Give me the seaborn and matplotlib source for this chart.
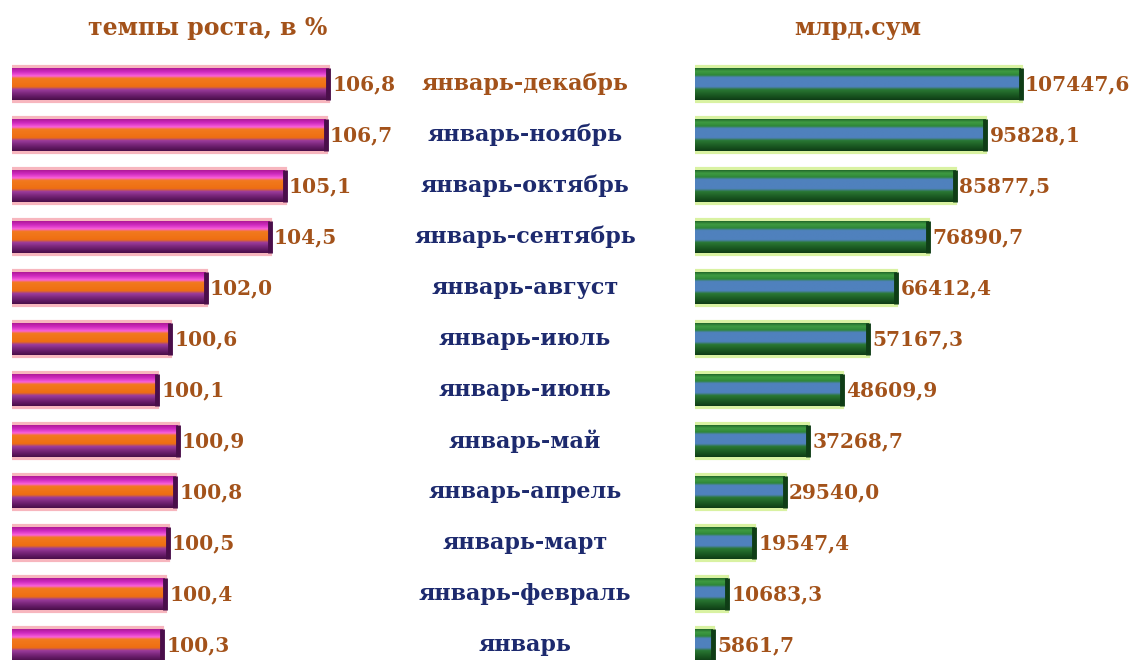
import numpy as np
import pandas as pd
import matplotlib
matplotlib.use('Agg')
import matplotlib.pyplot as plt
import matplotlib.transforms as mtransforms
from matplotlib.colors import LinearSegmentedColormap
import seaborn as sns

periods = ['январь-декабрь', 'январь-ноябрь', 'январь-октябрь', 'январь-сентябрь',
           'январь-август', 'январь-июль', 'январь-июнь', 'январь-май',
           'январь-апрель', 'январь-март', 'январь-февраль', 'январь']
growth = [106.8, 106.7, 105.1, 104.5, 102.0, 100.6, 100.1, 100.9, 100.8, 100.5, 100.4, 100.3]
volume = [107447.6, 95828.1, 85877.5, 76890.7, 66412.4, 57167.3, 48609.9,
          37268.7, 29540.0, 19547.4, 10683.3, 5861.7]
title_left = 'темпы роста, в %'
title_right = 'млрд.сум'

df = pd.DataFrame({'period': periods, 'growth': growth, 'volume': volume})

BROWN = '#a3521a'
NAVY = '#1d2a6e'
FONT = 'DejaVu Serif'

# 3D-looking gradients, top -> bottom
left_cmap = LinearSegmentedColormap.from_list('left', [
    (0.00, '#a8168f'), (0.14, '#cf2abf'), (0.27, '#fb62da'), (0.34, '#f27a1e'),
    (0.60, '#ee6e12'), (0.68, '#9c3c9c'), (0.86, '#6c1f6e'), (1.00, '#4a0e4a')])
right_cmap = LinearSegmentedColormap.from_list('right', [
    (0.00, '#1a5a24'), (0.12, '#3f9c42'), (0.24, '#2e8638'), (0.31, '#4f81bd'),
    (0.60, '#4f81bd'), (0.68, '#2a7834'), (0.85, '#1b5a22'), (1.00, '#0f3d16')])

sns.set_theme(style='white')

fig = plt.figure(figsize=(11.38, 6.6), dpi=100)
ax1 = fig.add_axes([12 / 1138, -10.5 / 660, 400 / 1138, 612 / 660])
ax2 = fig.add_axes([695 / 1138, -10.5 / 660, 443 / 1138, 612 / 660])

lims = {ax1: (94.4, 94.4 + 400 / 25.5), ax2: (0, 443 * 330)}


def draw_panel(ax, col, glow, cmap, dark, fmt, size):
    # soft glow under each bar
    sns.barplot(data=df, x=col, y='period', order=periods, orient='h', color=glow,
                width=0.68, edgecolor=glow, linewidth=3, saturation=1, ax=ax, zorder=1)
    n0 = len(ax.patches)
    sns.barplot(data=df, x=col, y='period', order=periods, orient='h', color=dark,
                width=0.64, linewidth=0, saturation=1, ax=ax, zorder=2)
    x0 = lims[ax][0]
    grad = np.linspace(0, 1, 64).reshape(-1, 1)
    for p in ax.patches[n0:]:
        left = max(p.get_x(), x0)
        right = p.get_x() + p.get_width()
        y, h = p.get_y(), p.get_height()
        im = ax.imshow(grad, cmap=cmap, aspect='auto', origin='upper',
                       extent=(left, right, y + h, y), zorder=3, interpolation='bilinear')
        im.set_clip_path(p)
        ax.plot([right, right], [y, y + h], color=dark, lw=3.5, zorder=4,
                solid_capstyle='butt')
    for i, v in enumerate(df[col]):
        ax.annotate(fmt(v), (v, i), xytext=(3, 0), textcoords='offset points',
                    va='center', ha='left', color=BROWN, fontsize=size,
                    fontweight='bold', family=FONT, annotation_clip=False)
    ax.set_xlim(*lims[ax])
    ax.set_ylim(len(periods) - 0.5, -0.5)
    ax.axis('off')


fmt = lambda v: f'{v:.1f}'.replace('.', ',')
draw_panel(ax1, 'growth', '#f7b6be', left_cmap, '#4a0e4a', fmt, 14.5)
draw_panel(ax2, 'volume', '#d9f2a2', right_cmap, '#0f3d16', fmt, 14.5)

# period labels in the middle
tr = mtransforms.blended_transform_factory(fig.transFigure, ax1.transData)
for i, name in enumerate(periods):
    fig.text(525 / 1138, i, name, transform=tr, ha='center', va='center',
             fontsize=16, fontweight='bold', family=FONT,
             color=BROWN if i == 0 else NAVY)

fig.text(208 / 1138, 1 - 28 / 660, title_left, ha='center', va='center',
         fontsize=17, fontweight='bold', family=FONT, color=BROWN)
fig.text(858 / 1138, 1 - 28 / 660, title_right, ha='center', va='center',
         fontsize=17, fontweight='bold', family=FONT, color=BROWN)

fig.savefig('out.png', dpi=100, facecolor='white')
